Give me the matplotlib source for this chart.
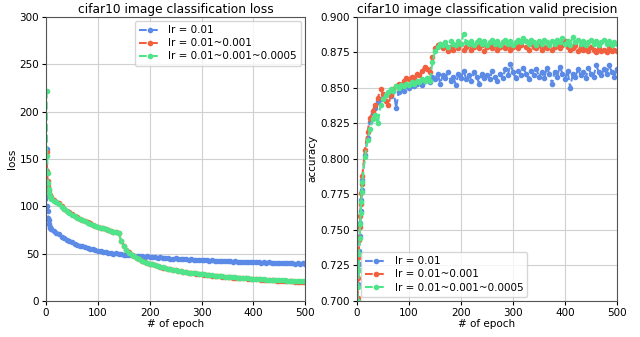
import matplotlib
matplotlib.use("Agg")
import matplotlib.pyplot as plt

# epochs that were sampled (dense at the start, then every 5)
epochs = list(range(1, 11)) + list(range(15, 501, 5))

labels = ["lr = 0.01", "lr = 0.01~0.001", "lr = 0.01~0.001~0.0005"]
colors = ["#5b8be6", "#f2603f", "#4fe38a"]

loss_a = [160, 100, 95, 88, 86, 81, 78, 77, 76, 75.5,
          74, 72, 70.5, 68, 66.5, 64.5, 63.5, 62, 60.5, 59.5,
          58.5, 57.5, 56.5, 55.5, 55.2, 54.5, 53.5, 53.2, 52.5, 52,
          51.8, 51, 50.7, 50, 50.3, 49.5, 49.2, 48.5, 48.8, 48,
          48.3, 47.5, 47.8, 47, 47.3, 46.5, 47.0, 46.5, 46.2, 46.6,
          45.5, 45.9, 45.4, 45, 45.3, 44.8, 44.5, 44.9, 44.3, 44,
          44.4, 43.8, 43.5, 43.9, 43.3, 43.6, 43, 43.4, 42.8, 43,
          42.5, 42.9, 42.3, 42.6, 42, 42.4, 41.9, 42.2, 41.8, 41.5,
          41.9, 41.3, 41.6, 41.2, 41, 41.4, 40.9, 41.1, 40.7, 41,
          40.5, 40.8, 40.3, 40.6, 40.2, 40.5, 40, 40.3, 39.8, 40.1,
          40, 39.7, 40.1, 39.5, 39.8, 39.4, 39.7, 39.5]

loss_b = [157, 137, 127, 121, 117, 114, 112, 110.5, 109.5, 108.5,
          107, 105, 103, 100, 97.5, 95.5, 93.5, 91.5, 90, 88.5,
          87, 85.5, 84, 83, 82, 80.5, 79.5, 78.5, 77.5, 76.5,
          75.5, 74.5, 74, 73, 72.5, 72, 63.5, 58.5, 54, 51.5,
          49, 47, 45.5, 44, 42.5, 41.5, 40.5, 39.5, 38.5, 37.5,
          36.8, 36, 35.3, 34.5, 34, 33.3, 32.8, 32.3, 31.8, 31.3,
          30.8, 30.3, 29.8, 29.4, 29, 28.7, 28.3, 28, 27.7, 27.3,
          27, 26.7, 26.4, 26.2, 25.9, 25.6, 25.4, 25.1, 24.9, 24.7,
          24.5, 24.3, 24.1, 23.9, 23.7, 23.5, 23.3, 23.1, 22.9, 22.7,
          22.5, 22.3, 22.2, 22, 21.8, 21.6, 21.5, 21.3, 21.2, 21,
          20.9, 20.7, 20.6, 20.4, 20.3, 20.1, 20, 19.8]

loss_c = [222, 153, 135, 125, 118, 114, 111, 110, 109, 108,
          106, 104, 102, 99.5, 97, 95, 93, 91, 89.5, 88,
          86.5, 85, 84, 82.5, 81.5, 80.5, 79.5, 78.5, 77.5, 76.5,
          75.5, 74.5, 74, 73, 72.5, 72, 63, 58, 54, 51,
          49, 47, 45.5, 44, 42.5, 41.5, 40.5, 39.5, 38.5, 37.5,
          37, 36, 35.5, 34.5, 34, 33.5, 33, 32.5, 32, 31.5,
          31, 30.5, 30, 29.5, 29.2, 29, 28.5, 28.2, 28, 27.6,
          27.3, 27, 26.7, 26.5, 26.2, 26, 25.7, 25.5, 25.2, 25,
          24.8, 24.6, 24.4, 24.2, 24, 23.8, 23.6, 23.4, 23.3, 23.1,
          23, 22.8, 22.6, 22.5, 22.3, 22.2, 22, 21.9, 21.8, 21.6,
          21.5, 21.4, 21.3, 21.2, 21.1, 21, 20.9, 20.8]

prec_a = [0.700, 0.712, 0.726, 0.735, 0.746, 0.755, 0.763, 0.771, 0.778, 0.785,
          0.803, 0.815, 0.826, 0.832, 0.836, 0.840, 0.842, 0.843, 0.845, 0.846,
          0.844, 0.848, 0.836, 0.847, 0.849, 0.848, 0.851, 0.850, 0.852, 0.851,
          0.853, 0.854, 0.852, 0.855, 0.856, 0.854, 0.858, 0.856, 0.860, 0.853,
          0.859, 0.857, 0.861, 0.855, 0.858, 0.852, 0.860, 0.857, 0.862, 0.856,
          0.859, 0.855, 0.861, 0.858, 0.853, 0.860, 0.857, 0.859, 0.856, 0.862,
          0.858, 0.855, 0.860, 0.857, 0.863, 0.859, 0.867, 0.861, 0.857, 0.862,
          0.859, 0.864, 0.860, 0.856, 0.862, 0.859, 0.863, 0.858, 0.861, 0.857,
          0.864, 0.860, 0.853, 0.861, 0.858, 0.865, 0.860, 0.856, 0.862, 0.850,
          0.860, 0.858, 0.863, 0.859, 0.861, 0.857, 0.864, 0.860, 0.858, 0.866,
          0.861, 0.859, 0.863, 0.860, 0.866, 0.861, 0.858, 0.863]

prec_b = [0.702, 0.716, 0.731, 0.743, 0.752, 0.760, 0.768, 0.776, 0.782, 0.788,
          0.806, 0.819, 0.829, 0.834, 0.838, 0.843, 0.849, 0.846, 0.841, 0.838,
          0.845, 0.849, 0.851, 0.853, 0.852, 0.855, 0.857, 0.856, 0.858, 0.857,
          0.860, 0.859, 0.862, 0.865, 0.863, 0.861, 0.872, 0.878, 0.880, 0.881,
          0.878, 0.880, 0.876, 0.879, 0.877, 0.880, 0.878, 0.881, 0.877, 0.879,
          0.880, 0.877, 0.879, 0.881, 0.878, 0.880, 0.876, 0.879, 0.881, 0.878,
          0.880, 0.877, 0.879, 0.882, 0.878, 0.880, 0.877, 0.879, 0.881, 0.878,
          0.880, 0.884, 0.879, 0.877, 0.881, 0.879, 0.878, 0.880, 0.877, 0.879,
          0.878, 0.880, 0.877, 0.879, 0.881, 0.878, 0.880, 0.883, 0.879, 0.877,
          0.878, 0.880, 0.876, 0.879, 0.877, 0.878, 0.876, 0.879, 0.877, 0.875,
          0.878, 0.876, 0.877, 0.875, 0.878, 0.876, 0.877, 0.876]

prec_c = [0.700, 0.710, 0.722, 0.733, 0.744, 0.754, 0.762, 0.770, 0.777, 0.784,
          0.801, 0.813, 0.821, 0.828, 0.831, 0.825, 0.838, 0.842, 0.845, 0.847,
          0.849, 0.848, 0.851, 0.850, 0.852, 0.851, 0.853, 0.852, 0.854, 0.853,
          0.855, 0.854, 0.856, 0.855, 0.857, 0.855, 0.868, 0.876, 0.879, 0.881,
          0.880, 0.882, 0.879, 0.883, 0.881, 0.880, 0.883, 0.881, 0.888, 0.882,
          0.881, 0.883, 0.880, 0.882, 0.884, 0.881, 0.883, 0.880, 0.882, 0.884,
          0.881, 0.883, 0.880, 0.882, 0.884, 0.881, 0.883, 0.880, 0.882, 0.884,
          0.882, 0.885, 0.883, 0.881, 0.884, 0.882, 0.880, 0.883, 0.881, 0.884,
          0.882, 0.880, 0.883, 0.881, 0.884, 0.882, 0.885, 0.881, 0.883, 0.880,
          0.886, 0.882, 0.884, 0.881, 0.883, 0.880, 0.882, 0.884, 0.881, 0.883,
          0.880, 0.882, 0.884, 0.881, 0.883, 0.880, 0.882, 0.881]

fig = plt.figure(figsize=(6.4, 3.37), dpi=100)
ax1 = fig.add_axes([0.072, 0.107, 0.405, 0.843])
ax2 = fig.add_axes([0.558, 0.107, 0.406, 0.843])

for ys, c, lab in zip([loss_a, loss_b, loss_c], colors, labels):
    ax1.plot(epochs, ys, "--", marker=".", color=c, markersize=6, linewidth=1.5, label=lab)
for ys, c, lab in zip([prec_a, prec_b, prec_c], colors, labels):
    ax2.plot(epochs, ys, "--", marker=".", color=c, markersize=6, linewidth=1.5, label=lab)

ax1.set_xlim(0, 500)
ax1.set_ylim(0, 300)
ax1.set_title("cifar10 image classification loss", fontsize=8.8, pad=3)
ax1.set_xlabel("# of epoch", fontsize=7.5, labelpad=1)
ax1.set_ylabel("loss", fontsize=7.5, labelpad=2)
ax1.legend(loc="upper right", fontsize=7.5, handlelength=2, borderaxespad=0.4, labelspacing=0.3)

ax2.set_xlim(0, 500)
ax2.set_ylim(0.7, 0.9)
ax2.set_yticks([0.700, 0.725, 0.750, 0.775, 0.800, 0.825, 0.850, 0.875, 0.900])
ax2.set_yticklabels(["%.3f" % v for v in ax2.get_yticks()])
ax2.set_title("cifar10 image classification valid precision", fontsize=8.8, pad=3)
ax2.set_xlabel("# of epoch", fontsize=7.5, labelpad=1)
ax2.set_ylabel("accuracy", fontsize=7.5, labelpad=2)
ax2.legend(loc="lower left", fontsize=7.5, handlelength=2, borderaxespad=0.4, labelspacing=0.3)

for ax in (ax1, ax2):
    ax.grid(True, color="#d0d0d0", linewidth=0.8)
    ax.set_axisbelow(True)
    ax.tick_params(labelsize=7.5, length=3, pad=2)
    for s in ax.spines.values():
        s.set_color("#555555")

fig.savefig("out.png", dpi=100)
